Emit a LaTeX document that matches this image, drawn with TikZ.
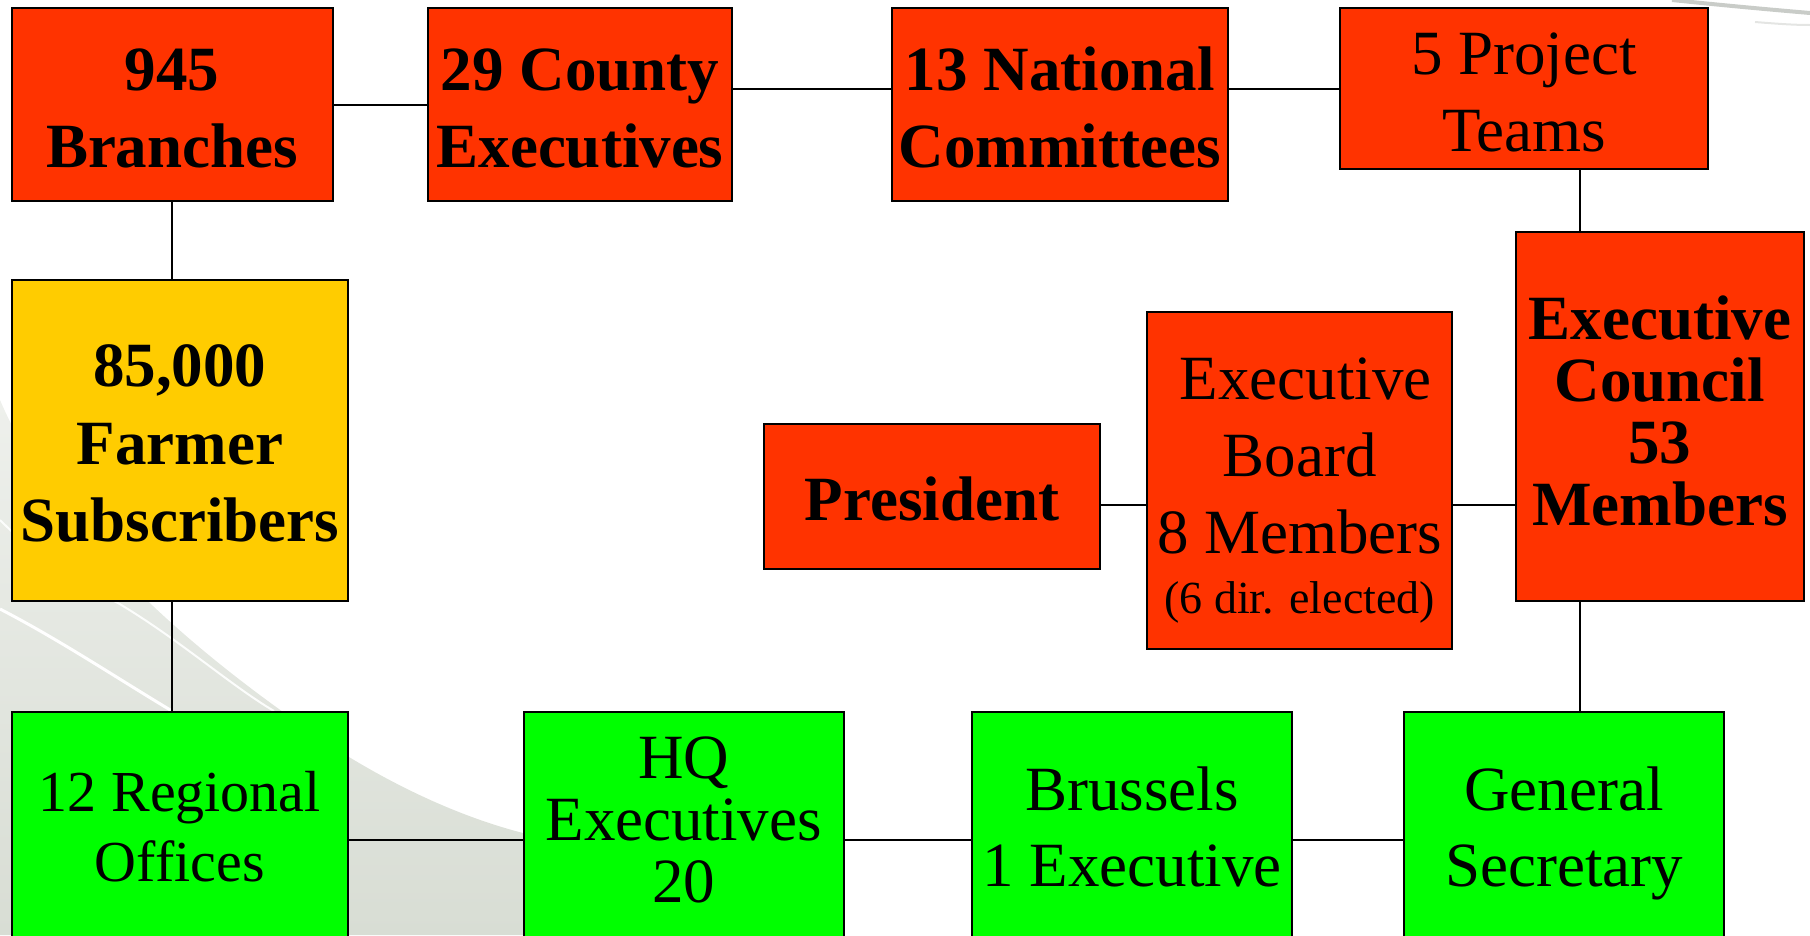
\documentclass[tikz,border=0pt]{standalone}
\usepackage{fontspec}
\setmainfont{Liberation Serif}
\definecolor{orgred}{HTML}{FF3300}
\definecolor{yel}{HTML}{FFCC00}
\definecolor{grn}{HTML}{00FF00}
\definecolor{bgL}{HTML}{EEF0EC}
\definecolor{bgD}{HTML}{D8DDD4}
\definecolor{swoosh}{HTML}{C9CCC8}
\newcommand\TopS[1][70]{\rule{0pt}{#1pt}}
\newcommand\BotS[1]{\rule[-#1pt]{0pt}{#1pt}}
\begin{document}
\begin{tikzpicture}[x=1pt,y=-1pt,
  box/.style={draw=black, line width=2pt, inner sep=0pt, align=center, text=black},
  redbox/.style={box, fill=orgred},
  yelbox/.style={box, fill=yel},
  grnbox/.style={box, fill=grn},
  bold/.style={font=\bfseries\fontsize{63}{77}\selectfont},
  reg/.style={font=\fontsize{63}{77}\selectfont},
  conn/.style={draw=black, line width=1.8pt}]
\useasboundingbox (0,0) rectangle (1810,935);
\clip (0,0) rectangle (1810,935);
% background swooshes
\shade[top color=bgL, bottom color=bgD]
  (0,400) .. controls (60,540) and (200,660) .. (349,757)
  .. controls (420,800) and (480,822) .. (523,833) -- (600,935) -- (0,935) -- cycle;
\draw[white, line width=3pt] (0,609) .. controls (60,640) and (120,680) .. (172,711);
\draw[white!85!bgL, line width=2pt] (0,520) .. controls (40,560) and (80,585) .. (118,603) .. controls (180,640) and (230,685) .. (274,711);
\draw[swoosh, line width=4pt] (1672,0) .. controls (1730,6) and (1775,10) .. (1810,13);
\draw[swoosh!50, line width=2pt] (1755,22) .. controls (1780,24) and (1795,25) .. (1810,25);
% nodes
\node[redbox, bold, minimum width=321pt, minimum height=193pt] (br) at (172,104.8) {\TopS 945\\Branches\BotS{22.6}};
\node[redbox, bold, minimum width=304.7pt, minimum height=193pt] (co) at (580,104.8) {\TopS 29 County\\Executives\BotS{21.2}};
\node[redbox, bold, minimum width=336.5pt, minimum height=193pt] (na) at (1059.8,104.8) {\TopS 13 National\\Committees\BotS{21.2}};
\node[redbox, reg, minimum width=368.8pt, minimum height=161pt] (pt) at (1524,88.8) {\TopS[50]5 Project\\Teams\BotS{2.6}};
\node[yelbox, font=\bfseries\fontsize{63}{77.5}\selectfont, minimum width=336.5pt, minimum height=321pt] (fa) at (179.8,440.5) {\TopS 85,000\\Farmer\\Subscribers\BotS{22.6}};
\node[redbox, font=\bfseries\fontsize{63}{61.7}\selectfont, minimum width=288.4pt, minimum height=368.7pt] (ec) at (1659.8,416.7) {\TopS Executive\\Council\\53\\Members\BotS{38.4}};
\node[redbox, reg, minimum width=304.6pt, minimum height=336.4pt] (eb) at (1299.7,480.5) {\TopS\hspace*{12pt}Executive\\Board\\8 Members\\[-17pt]{\fontsize{46}{58}\selectfont (6 dir. elected)}\BotS{19}};
\node[redbox, bold, minimum width=336pt, minimum height=145pt] (pr) at (932,496.8) {\TopS President\BotS{23.6}};
\node[grnbox, font=\fontsize{58}{70}\selectfont, minimum width=336.5pt, minimum height=227.7pt] (ro) at (179.8,826) {\TopS 12 Regional\\Offices\BotS{28.6}};
\node[grnbox, font=\fontsize{63}{62}\selectfont, minimum width=320.3pt, minimum height=227.7pt] (hq) at (683.7,826) {\TopS[50]HQ\\Executives\\20\BotS{22}};
\node[grnbox, font=\fontsize{63}{76.7}\selectfont, minimum width=319.7pt, minimum height=227.7pt] (bx) at (1131.9,826) {\TopS Brussels\\1 Executive\BotS{25.3}};
\node[grnbox, font=\fontsize{63}{76.7}\selectfont, minimum width=320.9pt, minimum height=227.7pt] (gs) at (1564,826) {\TopS General\\Secretary\BotS{25.3}};
% helper coordinates
\coordinate (vx) at (1579.6,0);
\coordinate (yt) at (0,88.7);
\coordinate (yb) at (0,505);
\coordinate (yg) at (0,840);
% connectors
\draw[conn] (br.east) -- (co.west);
\draw[conn] (co.east |- yt) -- (na.west |- yt);
\draw[conn] (na.east |- yt) -- (pt.west |- yt);
\draw[conn] (pt.south -| vx) -- (ec.north -| vx);
\draw[conn] (br.south) -- (fa.north -| br.south);
\draw[conn] (fa.south -| br.south) -- (ro.north -| br.south);
\draw[conn] (pr.east |- yb) -- (eb.west |- yb);
\draw[conn] (eb.east |- yb) -- (ec.west |- yb);
\draw[conn] (ec.south -| vx) -- (gs.north -| vx);
\draw[conn] (ro.east |- yg) -- (hq.west |- yg);
\draw[conn] (hq.east |- yg) -- (bx.west |- yg);
\draw[conn] (bx.east |- yg) -- (gs.west |- yg);
\end{tikzpicture}
\end{document}
